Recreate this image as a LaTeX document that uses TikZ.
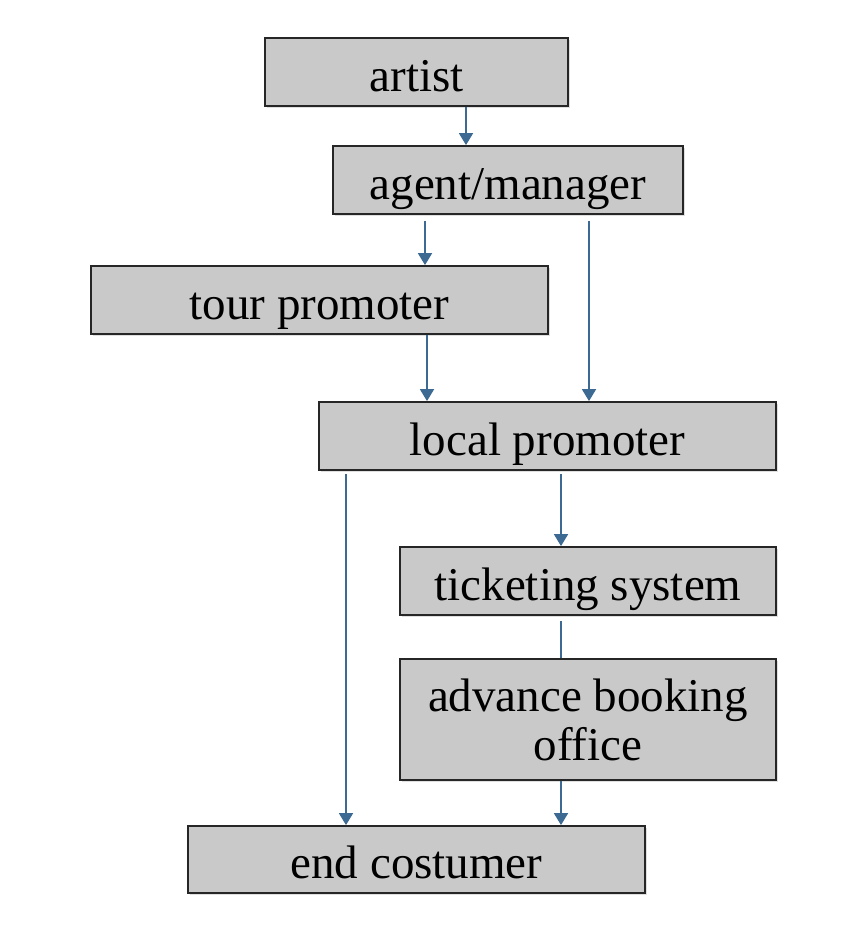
\documentclass[tikz,border=0pt]{standalone}
\usepackage{fontspec}
\setmainfont{Liberation Serif}
\usetikzlibrary{arrows.meta,shadows}
\definecolor{boxfill}{HTML}{C9C9C9}
\definecolor{arrowblue}{HTML}{3D6A93}
\tikzset{
  box/.style={draw=black!85, line width=1.8pt, fill=boxfill, inner sep=0pt,
    font=\fontsize{47}{52}\selectfont, align=center,
    drop shadow={shadow xshift=1.5pt, shadow yshift=-1.5pt, opacity=0.25}},
  onebox/.style={box, text height=40pt, text depth=2pt},
  arr/.style={draw=arrowblue, line width=1.8pt, -{Triangle[width=14pt,length=12pt]}},
  lnk/.style={draw=arrowblue, line width=1.8pt}
}
\begin{document}
\begin{tikzpicture}[x=1pt,y=1pt]
\useasboundingbox (0,0) rectangle (852,-940);
\fill[white] (0,0) rectangle (852,-940);
\node[onebox, minimum width=303pt, minimum height=68pt] (artist) at (416.5,-72) {artist};
\node[onebox, minimum width=350pt, minimum height=68pt] (agent) at (508,-180) {agent/manager};
\node[onebox, minimum width=457pt, minimum height=68pt] (tour) at (319.5,-300) {tour promoter};
\node[onebox, minimum width=457pt, minimum height=68pt] (local) at (547.5,-436) {local promoter};
\node[onebox, minimum width=376pt, minimum height=68pt] (ticket) at (588,-581) {ticketing system};
\node[box, minimum width=376pt, minimum height=121pt] (advance) at (588,-719.5) {\raisebox{-3pt}{advance booking}\\office};
\node[onebox, minimum width=457pt, minimum height=67pt] (endc) at (416.5,-859.5) {end costumer};
\coordinate (x1) at (466,0);
\coordinate (x2) at (425,0);
\coordinate (x3) at (589,0);
\coordinate (x4) at (427,0);
\coordinate (x5) at (346,0);
\coordinate (x6) at (561,0);
\draw[arr] (artist.south -| x1) -- (agent.north -| x1);
\draw[arr] ([yshift=-6pt]agent.south -| x2) -- (tour.north -| x2);
\draw[arr] ([yshift=-6pt]agent.south -| x3) -- (local.north -| x3);
\draw[arr] (tour.south -| x4) -- (local.north -| x4);
\draw[arr] ([yshift=-3pt]local.south -| x5) -- (endc.north -| x5);
\draw[arr] ([yshift=-3pt]local.south -| x6) -- (ticket.north -| x6);
\draw[lnk] ([yshift=-5pt]ticket.south -| x6) -- (advance.north -| x6);
\draw[arr] (advance.south -| x6) -- (endc.north -| x6);
\end{tikzpicture}
\end{document}
